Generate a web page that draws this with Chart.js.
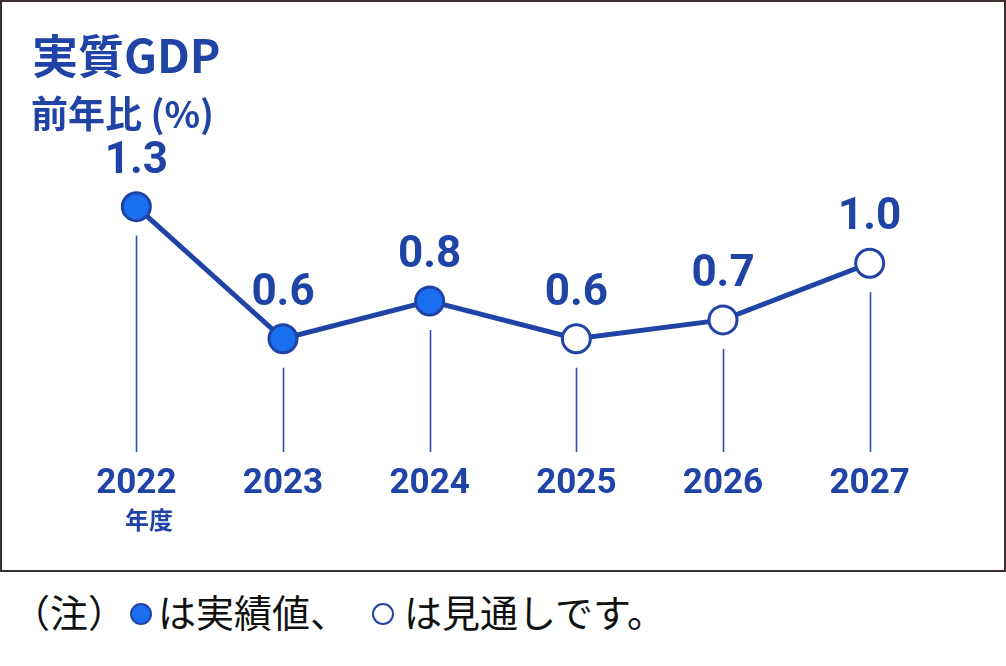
<!DOCTYPE html>
<html>
<head>
<meta charset="utf-8">
<script src="https://cdn.jsdelivr.net/npm/chart.js@4"></script>
<style>
  html, body { margin:0; padding:0; background:#fff; }
  body { width:1006px; height:666px; position:relative; overflow:hidden; }
  #frame { position:absolute; left:0; top:0; width:1006px; height:572px; box-sizing:border-box; border:2px solid #3a2f2d; }
  #wrap { position:absolute; left:0; top:0; width:1006px; height:572px; }
  .blue { color:#1f44a6; font-family:"Noto Sans CJK JP", sans-serif; font-weight:700; position:absolute; white-space:nowrap; }
  #title { left:32px; top:24px; font-size:46px; line-height:58px; }
  #unit { left:31px; top:89px; font-size:37px; line-height:46px; }
  #nendo { left:125px; top:503px; font-size:24px; line-height:32px; }
  #note { position:absolute; left:12px; top:587px; font-family:"Noto Sans CJK JP", sans-serif; font-size:38px; line-height:48px; color:#111; white-space:nowrap; }
  .dot { display:inline-block; width:22px; height:22px; border-radius:50%; box-sizing:border-box; border:2px solid #1f44a6; vertical-align:middle; position:relative; top:-3px; }
  .dot.fill { background:#1a6ff0; margin:0 6px 0 4px; }
  .dot.open { background:#fff; margin:0 10px 0 24px; border-width:2.5px; }
</style>
</head>
<body>
<div id="frame"></div>
<div id="wrap"><canvas id="gdpChart"></canvas></div>
<div class="blue" id="title">実質GDP</div>
<div class="blue" id="unit">前年比 (%)</div>
<div class="blue" id="nendo">年度</div>
<div id="note">（注）<span class="dot fill"></span>は実績値、<span class="dot open"></span>は見通しです。</div>
<script>
// data
const years = ['2022', '2023', '2024', '2025', '2026', '2027'];
const gdpGrowth = [1.3, 0.6, 0.8, 0.6, 0.7, 1.0];
const isActual = [true, true, true, false, false, false];

const navy = '#1f44a6';
const fillBlue = '#1a6ff0';

// value labels above each point
const valueLabels = {
    id: 'valueLabels',
    afterDatasetsDraw(chart) {
        const ctx = chart.ctx;
        const meta = chart.getDatasetMeta(0);
        ctx.save();
        ctx.fillStyle = navy;
        ctx.font = 'bold 44px Roboto';
        ctx.textAlign = 'center';
        ctx.textBaseline = 'middle';
        meta.data.forEach((pt, i) => {
            ctx.fillText(gdpGrowth[i].toFixed(1), pt.x, pt.y - 45);
        });
        ctx.restore();
    }
};

// thin drop lines from under each point to the baseline
const dropLines = {
    id: 'dropLines',
    beforeDatasetsDraw(chart) {
        const ctx = chart.ctx;
        const meta = chart.getDatasetMeta(0);
        const bottom = chart.chartArea.bottom;
        ctx.save();
        ctx.strokeStyle = '#2b4fb2';
        ctx.lineWidth = 1.6;
        meta.data.forEach(pt => {
            const x = Math.round(pt.x) + 0.5;
            ctx.beginPath();
            ctx.moveTo(x, pt.y + 29);
            ctx.lineTo(x, bottom);
            ctx.stroke();
        });
        ctx.restore();
    }
};

const ctx = document.getElementById('gdpChart').getContext('2d');
const gdpChart = new Chart(ctx, {
    type: 'line',
    data: {
        labels: years,
        datasets: [{
            data: gdpGrowth,
            borderColor: navy,
            borderWidth: 5,
            pointRadius: 14,
            pointHoverRadius: 14,
            pointBorderWidth: 3,
            pointBorderColor: navy,
            pointBackgroundColor: isActual.map(a => a ? fillBlue : '#ffffff'),
            tension: 0,
            clip: false
        }]
    },
    options: {
        responsive: true,
        maintainAspectRatio: false,
        animation: false,
        layout: { padding: { left: 63, right: 63, top: 150, bottom: 40 } },
        plugins: {
            legend: { display: false },
            tooltip: { enabled: false }
        },
        scales: {
            x: {
                offset: true,
                grid: { display: false, drawTicks: false },
                border: { display: false },
                ticks: {
                    color: navy,
                    font: { family: 'Roboto', weight: 'bold', size: 35 },
                    padding: 11,
                    maxRotation: 0
                },
                afterFit(scale) { scale.height = 80; }
            },
            y: {
                display: false,
                min: 0,
                max: 1.6
            }
        }
    },
    plugins: [dropLines, valueLabels]
});
</script>
</body>
</html>
